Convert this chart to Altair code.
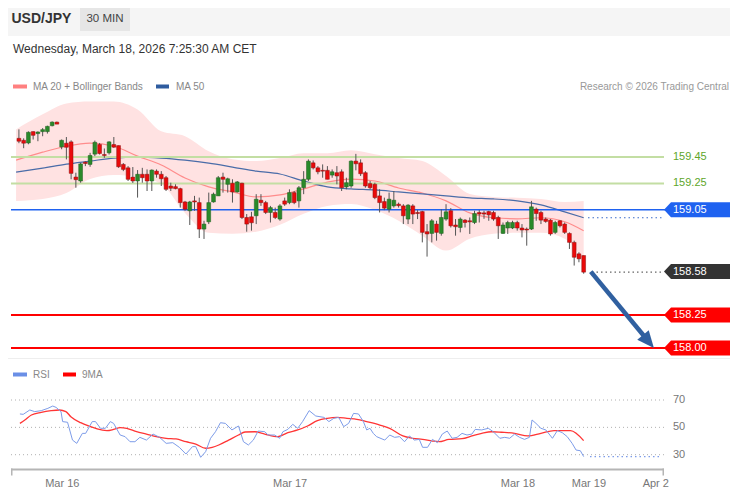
import math
import numpy as np
import pandas as pd
import altair as alt

# ---------------- data ----------------
opens = [
    159.592, 159.577, 159.557, 159.643, 159.628, 159.643, 159.643, 159.688, 159.715, 159.527,
    159.555, 159.565, 159.298, 159.268, 159.411, 159.394, 159.472, 159.545, 159.469, 159.482,
    159.545, 159.537, 159.394, 159.368, 159.298, 159.268, 159.319, 159.319, 159.268, 159.343,
    159.319, 159.293, 159.230, 159.225, 159.210, 159.109, 159.042, 159.117, 159.104, 158.903,
    158.958, 159.109, 159.155, 159.298, 159.243, 159.251, 159.185, 159.251, 158.991, 158.996,
    159.004, 159.122, 159.104, 159.029, 159.029, 158.979, 159.117, 159.104, 159.180, 159.117,
    159.217, 159.281, 159.406, 159.368, 159.349, 159.349, 159.313, 159.331, 159.338, 159.223,
    159.230, 159.419, 159.406, 159.331, 159.248, 159.243, 159.155, 159.112, 159.054, 159.079,
    159.092, 159.079, 158.979, 159.079, 159.029, 159.036, 158.883, 158.870, 158.941, 158.870,
    158.979, 159.042, 158.934, 158.915, 158.971, 158.966, 158.953, 159.029, 159.026, 159.036,
    159.029, 158.991, 158.870, 158.911, 158.911, 158.953, 158.911, 158.903, 158.903, 159.054,
    159.029, 158.979, 158.971, 158.878, 158.966, 158.941, 158.870, 158.802, 158.715, 158.702]
closes = [
    159.570, 159.555, 159.638, 159.615, 159.640, 159.658, 159.683, 159.715, 159.700, 159.577,
    159.524, 159.326, 159.278, 159.398, 159.401, 159.462, 159.562, 159.477, 159.462, 159.565,
    159.525, 159.376, 159.356, 159.281, 159.268, 159.319, 159.293, 159.268, 159.351, 159.319,
    159.285, 159.205, 159.213, 159.210, 159.104, 159.054, 159.109, 159.109, 158.903, 158.941,
    159.104, 159.168, 159.293, 159.281, 159.285, 159.185, 159.261, 158.991, 158.941, 158.951,
    159.130, 159.104, 159.029, 159.066, 158.991, 159.079, 159.092, 159.180, 159.104, 159.217,
    159.281, 159.419, 159.368, 159.338, 159.343, 159.281, 159.338, 159.306, 159.217, 159.255,
    159.419, 159.399, 159.323, 159.230, 159.217, 159.142, 159.104, 159.062, 159.130, 159.122,
    159.081, 159.004, 159.085, 159.017, 159.021, 158.878, 158.866, 158.966, 158.878, 158.991,
    159.034, 158.928, 158.921, 158.979, 158.953, 158.958, 159.021, 159.017, 159.017, 159.011,
    158.979, 158.928, 158.934, 158.953, 158.953, 158.911, 158.896, 158.896, 159.072, 159.021,
    158.971, 158.961, 158.866, 158.953, 158.928, 158.878, 158.802, 158.689, 158.677, 158.576]
highs = [
    159.660, 159.592, 159.645, 159.645, 159.645, 159.670, 159.688, 159.721, 159.719, 159.583,
    159.602, 159.577, 159.331, 159.406, 159.419, 159.482, 159.575, 159.557, 159.515, 159.570,
    159.602, 159.537, 159.404, 159.381, 159.374, 159.351, 159.368, 159.356, 159.356, 159.356,
    159.343, 159.306, 159.255, 159.243, 159.217, 159.117, 159.117, 159.155, 159.142, 158.966,
    159.180, 159.180, 159.306, 159.331, 159.293, 159.281, 159.268, 159.255, 159.017, 159.034,
    159.168, 159.168, 159.117, 159.079, 159.066, 159.092, 159.142, 159.205, 159.192, 159.230,
    159.343, 159.432, 159.424, 159.381, 159.394, 159.381, 159.356, 159.381, 159.356, 159.293,
    159.424, 159.474, 159.432, 159.343, 159.268, 159.255, 159.205, 159.142, 159.180, 159.192,
    159.104, 159.092, 159.092, 159.092, 159.047, 159.042, 158.941, 158.979, 158.966, 159.054,
    159.092, 159.062, 158.979, 158.991, 158.979, 158.991, 159.042, 159.047, 159.042, 159.042,
    159.042, 159.004, 158.953, 158.966, 158.966, 158.966, 158.941, 158.915, 159.117, 159.066,
    159.042, 158.991, 158.979, 158.966, 158.971, 158.953, 158.878, 158.815, 158.727, 158.702]
lows = [
    159.555, 159.517, 159.547, 159.583, 159.570, 159.608, 159.628, 159.683, 159.700, 159.509,
    159.432, 159.281, 159.217, 159.255, 159.381, 159.376, 159.457, 159.469, 159.444, 159.469,
    159.519, 159.368, 159.343, 159.268, 159.253, 159.142, 159.255, 159.192, 159.192, 159.293,
    159.230, 159.192, 159.192, 159.205, 159.066, 159.042, 158.934, 159.042, 158.835, 158.828,
    158.941, 159.104, 159.155, 159.180, 159.180, 159.104, 159.180, 158.979, 158.883, 158.891,
    158.941, 159.079, 159.017, 158.953, 158.979, 158.966, 159.079, 159.092, 159.092, 159.066,
    159.168, 159.268, 159.356, 159.319, 159.293, 159.281, 159.293, 159.243, 159.192, 159.205,
    159.217, 159.349, 159.306, 159.217, 159.205, 159.130, 159.029, 159.047, 159.029, 159.066,
    159.066, 158.941, 158.941, 158.941, 158.979, 158.802, 158.694, 158.802, 158.815, 158.853,
    158.966, 158.915, 158.853, 158.878, 158.915, 158.866, 158.941, 158.953, 158.981, 158.966,
    158.966, 158.828, 158.866, 158.866, 158.903, 158.891, 158.840, 158.777, 158.896, 158.966,
    158.941, 158.951, 158.853, 158.866, 158.915, 158.866, 158.752, 158.626, 158.651, 158.564]

ind_idx = [-0.6, 5, 10, 15, 20, 25, 30, 35, 40, 45, 50, 55, 60, 65, 70, 75, 80, 85,
           90, 95, 100, 105, 110, 115, 119]
ma20 = [159.426, 159.487, 159.532, 159.555, 159.532, 159.457, 159.389, 159.291, 159.223,
        159.185, 159.147, 159.162, 159.208, 159.260, 159.283, 159.268, 159.215, 159.177,
        159.117, 159.026, 158.989, 158.981, 158.989, 158.959, 158.891]
ma50 = [159.336, 159.366, 159.396, 159.419, 159.442, 159.449, 159.442, 159.426, 159.404,
        159.374, 159.343, 159.321, 159.268, 159.223, 159.208, 159.200, 159.185, 159.170,
        159.155, 159.140, 159.132, 159.117, 159.087, 159.034, 158.989]
bb_upper = [159.660, 159.774, 159.857, 159.872, 159.872, 159.811, 159.645, 159.608, 159.494,
            159.434, 159.419, 159.442, 159.479, 159.479, 159.502, 159.472, 159.442, 159.419,
            159.306, 159.170, 159.147, 159.140, 159.132, 159.109, 159.117]
bb_lower = [159.117, 159.132, 159.177, 159.283, 159.313, 159.298, 159.245, 159.026, 158.875,
            158.868, 158.883, 158.936, 159.019, 159.079, 159.094, 159.049, 158.966, 158.853,
            158.740, 158.830, 158.868, 158.875, 158.875, 158.830, 158.664]

rsi_idx = [0.21, 0.90, 2.29, 3.32, 4.71, 6.10, 7.13, 7.83, 8.87, 9.21,
           10.25, 11.29, 12.19, 13.37, 14.06, 15.45, 16.14, 17.18, 18.22, 19.26,
           19.95, 21.33, 22.37, 23.41, 24.45, 25.49, 26.87, 28.26, 29.64, 31.03,
           32.42, 33.80, 35.19, 36.57, 37.26, 38.30, 39.34, 40.38, 41.42, 42.46,
           43.50, 44.88, 46.27, 47.31, 48.35, 49.39, 50.42, 51.81, 52.50, 53.89,
           54.93, 55.62, 56.66, 57.70, 58.74, 59.77, 61.16, 62.55, 64.28, 65.32,
           66.35, 67.39, 68.43, 69.47, 70.51, 71.55, 72.59, 73.28, 73.97, 74.67,
           75.36, 77.09, 78.13, 79.17, 80.21, 81.25, 82.29, 83.33, 84.36, 85.06,
           86.10, 87.13, 88.17, 89.21, 90.25, 91.29, 92.33, 93.37, 94.41, 95.45,
           96.14, 97.52, 98.91, 99.95, 101.33, 102.37, 103.41, 104.45, 105.49, 106.53,
           107.57, 108.12, 108.95, 109.99, 111.03, 112.42, 113.45, 114.49, 115.53, 116.57,
           117.40, 118.30, 119.0]
rsi_val = [59.8, 59.5, 62.7, 61.5, 62.2, 63.9, 65.6, 64.6, 61.5, 54.2,
           53.7, 40.7, 38.3, 45.6, 45.6, 54.2, 54.2, 49.3, 49.3, 54.2,
           52.9, 44.4, 43.2, 39.5, 39.5, 42.7, 40.7, 45.1, 42.7, 38.3,
           38.8, 35.4, 30.5, 35.9, 35.9, 28.1, 32.2, 42.0, 46.8, 53.4,
           52.9, 48.1, 51.0, 39.5, 37.1, 40.7, 47.3, 46.8, 44.4, 44.4,
           42.0, 46.8, 48.5, 52.2, 49.3, 54.2, 62.2, 58.3, 57.3, 54.2,
           56.6, 57.3, 50.5, 52.9, 60.2, 59.8, 54.2, 48.1, 49.3, 45.6,
           43.2, 40.7, 44.4, 42.7, 43.2, 39.5, 43.7, 40.7, 41.2, 35.4,
           35.4, 41.2, 38.8, 45.1, 47.3, 42.0, 42.7, 45.6, 44.4, 45.1,
           48.5, 48.1, 49.3, 46.8, 42.0, 42.7, 42.0, 45.1, 42.7, 41.2,
           42.7, 55.4, 52.9, 49.3, 48.1, 42.0, 47.6, 46.1, 43.2, 38.3,
           33.4, 32.9, 28.6]
rsi_ma_idx = [0.21, 1.25, 2.63, 4.71, 6.79, 8.52, 9.90, 10.94, 13.02, 15.10,
              16.48, 18.56, 19.95, 21.33, 22.72, 24.80, 26.87, 28.95, 31.03, 33.11,
              35.19, 37.26, 39.34, 40.73, 42.11, 44.19, 46.27, 47.65, 49.73, 51.81,
              54.58, 56.66, 58.74, 60.81, 62.89, 64.97, 67.05, 69.13, 71.21, 73.28,
              76.05, 78.13, 80.90, 82.98, 85.06, 87.13, 88.52, 90.60, 93.37, 95.45,
              97.52, 99.60, 101.68, 104.45, 107.22, 109.99, 112.76, 116.22, 118.99]
rsi_ma_val = [52.9, 55.4, 59.0, 61.0, 62.2, 62.7, 61.5, 57.8, 53.4, 50.5,
              48.8, 47.6, 48.5, 49.8, 49.3, 46.8, 45.1, 43.2, 42.0, 41.5,
              39.5, 37.8, 34.7, 35.4, 37.1, 40.7, 44.4, 46.6, 46.8, 45.1,
              43.2, 46.1, 48.1, 51.0, 54.9, 56.6, 57.3, 56.6, 55.9, 54.2,
              51.7, 49.3, 43.7, 42.0, 41.2, 40.0, 39.5, 41.2, 41.7, 43.7,
              45.6, 46.8, 46.4, 45.6, 43.7, 45.6, 47.6, 47.6, 40.3]

level_prices = [159.45, 159.25, 159.05, 158.58, 158.25, 158.00]
level_labels = ["159.45", "159.25", "159.05", "158.58", "158.25", "158.00"]
rsi_levels = [70, 50, 30]
rsi_level_labels = ["70", "50", "30"]
tick_idx = [9.14, 57.14, 105.14, 120.1, 134.2]
tick_labels = ["Mar 16", "Mar 17", "Mar 18", "Mar 19", "Apr 2"]
arrow_idx = [120.5, 133.8]
arrow_price = [158.58, 158.00]

# ---------------- layout ----------------
OFF = 8                      # page margin
W, H = 722, 482
X0, DX = 14 - OFF, 4.8125    # x of candle 0, px per candle
P_REF, P_Y, P_K = 158.0, 348 - OFF, 131.7
R_REF, R_Y, R_K = 70.0, 400 - OFF, 1.3675
FONT = "Liberation Sans, Arial, sans-serif"

xs = alt.Scale(domain=[(0 - X0) / DX, (W - X0) / DX], nice=False, zero=False)
ps = alt.Scale(domain=[P_REF - (H - P_Y) / P_K, P_REF + P_Y / P_K], nice=False, zero=False)
rs = alt.Scale(domain=[R_REF - (H - R_Y) / R_K, R_REF + R_Y / R_K], nice=False, zero=False)


def px(v):
    return v - OFF


def X(f="i"):
    return alt.X(f"{f}:Q", scale=xs, axis=None)


def PY(f):
    return alt.Y(f"{f}:Q", scale=ps, axis=None)


def RY(f):
    return alt.Y(f"{f}:Q", scale=rs, axis=None)


one = pd.DataFrame({"k": [0]})


def rect(x1, y1, x2, y2, color):
    return alt.Chart(one).mark_rect(color=color).encode(
        x=alt.value(px(x1)), x2=alt.value(px(x2)), y=alt.value(px(y1)), y2=alt.value(px(y2)))


def label(s, x, y, size=10, color="#888", weight="normal", align="left"):
    return alt.Chart(one).mark_text(
        text=s, font=FONT, fontSize=size, color=color, fontWeight=weight,
        align=align, baseline="middle").encode(x=alt.value(px(x)), y=alt.value(px(y)))


def prule(df, field, x1, x2, color, width=1.0, dash=None):
    kw = dict(color=color, strokeWidth=width)
    if dash:
        kw["strokeDash"] = dash
    return alt.Chart(df).mark_rule(**kw).encode(
        x=alt.value(px(x1)), x2=alt.value(px(x2)), y=PY(field))


layers = []

# header
layers.append(rect(0, 0, 738, 36, "#f5f5f5"))
layers.append(rect(80, 7, 130, 31, "#e6e6e6"))
layers.append(label("USD/JPY", 11.5, 19, size=14, color="#333", weight="bold"))
layers.append(label("30 MIN", 105, 19, size=11.5, color="#444", align="center"))
layers.append(label("Wednesday, March 18, 2026 7:25:30 AM CET", 13, 48.5, size=12, color="#333"))

# legend
layers.append(rect(13, 84.5, 27, 88.5, "#ff8080"))
layers.append(label("MA 20 + Bollinger Bands", 33, 86.5))
layers.append(rect(156, 84.5, 169, 88.5, "#2f5c9f"))
layers.append(label("MA 50", 176, 86.5))
layers.append(label("Research \u00a9 2026 Trading Central", 729, 86.5, color="#999", align="right"))

# separator
layers.append(rect(0, 358, 738, 359, "#eeeeee"))

# bollinger band and moving averages
ind = pd.DataFrame({"i": ind_idx, "ma20": ma20, "ma50": ma50, "up": bb_upper, "lo": bb_lower})
layers.append(alt.Chart(ind).mark_area(color="#ffe2e2", interpolate="monotone").encode(
    x=X(), y=PY("lo"), y2=alt.Y2("up")))
layers.append(alt.Chart(ind).mark_line(color="#ff8c8c", strokeWidth=1.2, interpolate="monotone").encode(
    x=X(), y=PY("ma20")))
layers.append(alt.Chart(ind).mark_line(color="#4a6ca8", strokeWidth=1.2, interpolate="monotone").encode(
    x=X(), y=PY("ma50")))

# levels
lv = pd.DataFrame({"p": level_prices, "lab": level_labels})
layers.append(prule(lv.iloc[[0, 1]], "p", 11, 664, "#c3dea3", 2))
layers.append(prule(lv.iloc[[2]], "p", 11, 666, "#1f62f0", 1.5))
layers.append(prule(lv.iloc[[4, 5]], "p", 11, 666, "#ff0000", 2))

# candles
cdf = pd.DataFrame({"i": np.arange(len(opens)), "open": opens, "high": highs,
                    "low": lows, "close": closes})
up = cdf[cdf["close"] >= cdf["open"]]
dn = cdf[cdf["close"] < cdf["open"]]
layers.append(alt.Chart(cdf).mark_rule(color="#555", strokeWidth=1).encode(
    x=X(), y=PY("low"), y2=alt.Y2("high")))
layers.append(alt.Chart(up).mark_bar(size=3.8, color="#2a8a2a", stroke="#1f5f1f", strokeWidth=0.5).encode(
    x=X(), y=PY("open"), y2=alt.Y2("close")))
layers.append(alt.Chart(dn).mark_bar(size=3.8, color="#ea0a0a", stroke="#8a1010", strokeWidth=0.5).encode(
    x=X(), y=PY("open"), y2=alt.Y2("close")))

# dotted extensions
layers.append(prule(pd.DataFrame({"p": [ma50[-1]]}), "p", 588, 662, "#3b6cc9", 1.2, [1.5, 3]))
layers.append(prule(pd.DataFrame({"p": [closes[-1]]}), "p", 592, 662, "#666", 1.2, [1.5, 3]))

# tags
TAG = "M 0 0 L 7 -7.5 L 71 -7.5 L 71 7.5 L 7 7.5 Z"
for k, col in [(2, "#1f62f0"), (3, "#333333"), (4, "#ff0000"), (5, "#ff0000")]:
    layers.append(alt.Chart(lv.iloc[[k]]).mark_point(
        shape=TAG, size=4, filled=True, color=col, opacity=1, strokeWidth=0).encode(
        x=alt.value(px(664)), y=PY("p")))
layers.append(alt.Chart(lv.iloc[[0, 1]]).mark_text(
    font=FONT, fontSize=11, color="#5ea62a", align="left", baseline="middle").encode(
    x=alt.value(px(673)), y=PY("p"), text="lab:N"))
layers.append(alt.Chart(lv.iloc[[2, 3, 4, 5]]).mark_text(
    font=FONT, fontSize=11, color="white", align="left", baseline="middle").encode(
    x=alt.value(px(673)), y=PY("p"), text="lab:N"))

# arrow
dxp = (arrow_idx[1] - arrow_idx[0]) * DX
dyp = (arrow_price[0] - arrow_price[1]) * P_K
ang = math.degrees(math.atan2(dxp, -dyp)) % 360
frac = 1 - 13 / math.hypot(dxp, dyp)
adf = pd.DataFrame({
    "i": [arrow_idx[0], arrow_idx[0] + frac * (arrow_idx[1] - arrow_idx[0])],
    "p": [arrow_price[0], arrow_price[0] + frac * (arrow_price[1] - arrow_price[0])]})
layers.append(alt.Chart(adf).mark_line(color="#3060a0", strokeWidth=4.5, strokeCap="butt").encode(
    x=X(), y=PY("p")))
head = pd.DataFrame({"i": [arrow_idx[1]], "p": [arrow_price[1]]})
layers.append(alt.Chart(head).mark_point(
    shape="M 0 0 L 7.5 17 L -7.5 17 Z", size=4, filled=True, color="#3060a0",
    opacity=1, strokeWidth=0, angle=ang).encode(x=X(), y=PY("p")))

# RSI panel
layers.append(rect(13, 372.5, 27, 376.5, "#6a8fe6"))
layers.append(label("RSI", 33, 374.5))
layers.append(rect(63, 372.5, 76, 376.5, "#ff0000"))
layers.append(label("9MA", 82, 374.5))

rl = pd.DataFrame({"r": rsi_levels, "lab": rsi_level_labels})
layers.append(alt.Chart(rl).mark_rule(color="#b0b0b0", strokeDash=[1, 3], strokeWidth=1).encode(
    x=alt.value(px(11)), x2=alt.value(px(664)), y=RY("r")))
layers.append(alt.Chart(rl).mark_text(font=FONT, fontSize=11, color="#777", align="left",
                                      baseline="middle").encode(
    x=alt.value(px(673)), y=RY("r"), text="lab:N"))

rsi = pd.DataFrame({"i": rsi_idx, "r": rsi_val})
rma = pd.DataFrame({"i": rsi_ma_idx, "r": rsi_ma_val})
layers.append(alt.Chart(rma).mark_line(color="#ff3535", strokeWidth=1.3, interpolate="monotone").encode(
    x=X(), y=RY("r")))
layers.append(alt.Chart(rsi).mark_line(color="#7d9ce9", strokeWidth=1).encode(x=X(), y=RY("r")))
layers.append(alt.Chart(pd.DataFrame({"r": [rsi_val[-1]]})).mark_rule(
    color="#7d9ce9", strokeDash=[1.5, 3], strokeWidth=1.2).encode(
    x=alt.value(px(590)), x2=alt.value(px(662)), y=RY("r")))

# x axis
layers.append(rect(11, 468.5, 664, 470.5, "#b5b5b5"))
layers.append(rect(11, 468.5, 12.5, 475.5, "#b5b5b5"))
layers.append(rect(662.5, 468.5, 664, 475.5, "#b5b5b5"))
ticks = pd.DataFrame({"t": tick_idx, "lab": tick_labels})
layers.append(alt.Chart(ticks).mark_text(font=FONT, fontSize=11, color="#777", align="center",
                                         baseline="middle").encode(
    x=X("t"), y=alt.value(px(483.5)), text="lab:N"))

chart = alt.layer(*layers).resolve_scale(y="independent").properties(
    width=W, height=H, padding=0, background="white",
    autosize=alt.AutoSizeParams(type="none")).configure_view(stroke=None)

chart.save("out.html", embed_options={"renderer": "svg", "actions": False})
